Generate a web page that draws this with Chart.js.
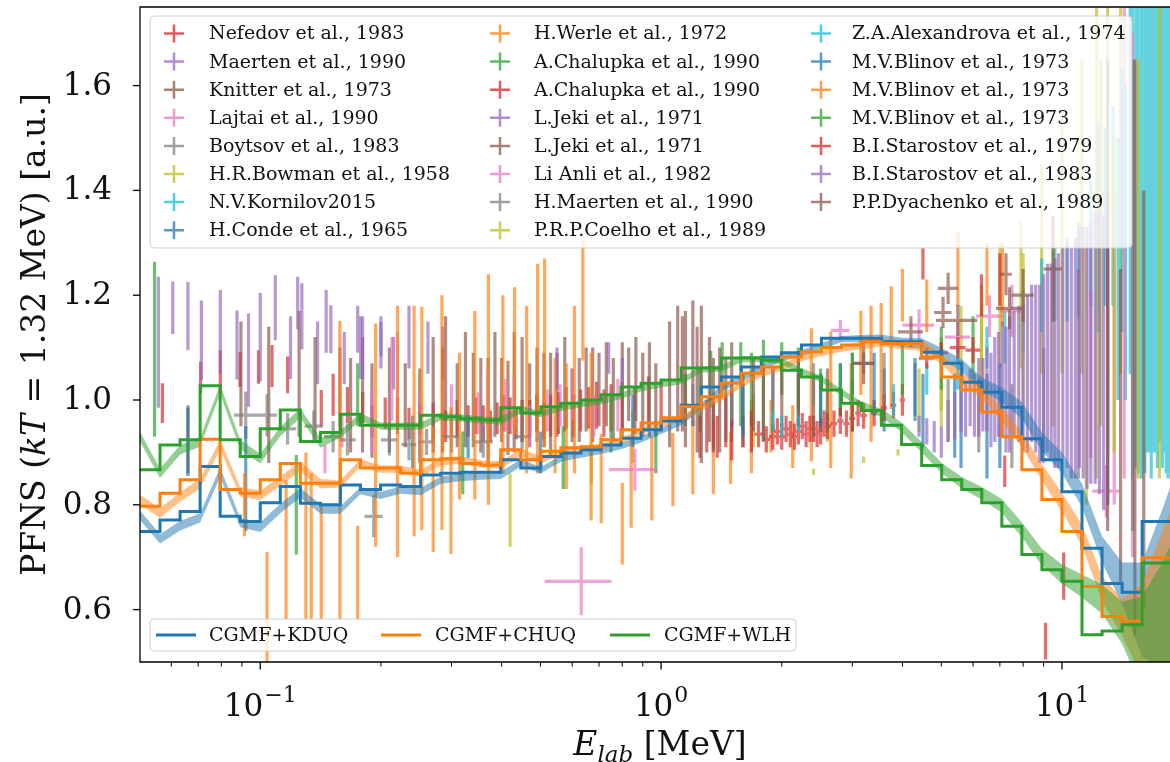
<!DOCTYPE html>
<html><head><meta charset="utf-8">
<script src="https://cdn.jsdelivr.net/npm/chart.js@4.4.1/dist/chart.umd.min.js"></script>
<style>html,body{margin:0;padding:0;background:#fff;overflow:hidden}canvas{display:block}</style>
</head><body>
<canvas id="c" width="1170" height="762"></canvas>
<script>
// ---------- axes ----------
const xRange = [0.05012, 18.6];
const yRange = [0.5, 1.75];
const yTicks = [0.6, 0.8, 1.0, 1.2, 1.4, 1.6];
const yTickLabels = ['0.6', '0.8', '1.0', '1.2', '1.4', '1.6'];
const xTicks = [0.1, 1, 10];
const xTickExps = ['\u22121', '0', '1'];
const xMinorTicks = [0.06,0.07,0.08,0.09,0.2,0.3,0.4,0.5,0.6,0.7,0.8,0.9,2,3,4,5,6,7,8,9];

// ---------- model histograms (bin edges in MeV) ----------
const binEdges = [0.05012,0.05623,0.0631,0.07079,0.07943,0.08913,0.1,0.1122,0.1259,0.1413,0.1585,0.1778,0.1995,0.2239,0.2512,0.2818,0.3162,0.3548,0.3981,0.4467,0.5012,0.5623,0.631,0.7079,0.7943,0.8913,1.0,1.122,1.259,1.413,1.585,1.778,1.995,2.239,2.512,2.818,3.162,3.548,3.981,4.467,5.012,5.623,6.31,7.079,7.943,8.913,10.0,11.22,12.59,14.13,15.85,17.78,19.95];

const cgmfKDUQ = [0.749,0.771,0.787,0.873,0.778,0.768,0.804,0.835,0.803,0.800,
 0.838,0.829,0.838,0.835,0.857,0.860,0.862,0.862,0.886,0.870,
 0.892,0.899,0.905,0.914,0.927,0.943,0.960,0.990,1.025,1.044,
 1.063,1.082,1.090,1.105,1.118,1.118,1.118,1.111,1.111,1.091,
 1.070,1.034,1.015,0.986,0.926,0.886,0.825,0.717,0.650,0.633,
 0.768,0.768];
const cgmfCHUQ = [0.797,0.822,0.848,0.925,0.829,0.822,0.848,0.879,0.841,0.841,
 0.886,0.870,0.870,0.860,0.886,0.888,0.879,0.876,0.905,0.886,
 0.902,0.909,0.911,0.924,0.943,0.956,0.966,0.987,1.006,1.032,
 1.051,1.063,1.082,1.092,1.100,1.105,1.111,1.108,1.108,1.082,
 1.044,1.019,0.977,0.930,0.867,0.810,0.749,0.644,0.587,0.578,
 0.699,0.699];
const cgmfWLH = [0.867,0.914,0.924,1.027,0.924,0.892,0.945,0.981,0.921,0.938,
 0.973,0.952,0.952,0.952,0.971,0.968,0.964,0.962,0.985,0.975,
 0.987,0.994,1.000,1.010,1.025,1.032,1.038,1.061,1.061,1.080,
 1.080,1.076,1.057,1.044,1.019,0.994,0.980,0.952,0.915,0.875,
 0.848,0.829,0.804,0.759,0.705,0.676,0.654,0.552,0.559,0.571,
 0.689,0.689];

// uncertainty bands (value at each bin edge, and half width)
const bandKDUQ = [0.780,
 0.735,0.760,0.775,0.862,0.766,0.757,0.793,0.823,0.792,0.790,
 0.827,0.818,0.828,0.825,0.847,0.852,0.855,0.856,0.880,0.866,
 0.888,0.896,0.903,0.912,0.925,0.941,0.958,0.988,1.022,1.042,
 1.061,1.080,1.089,1.103,1.116,1.117,1.117,1.110,1.108,1.088,
 1.066,1.030,1.010,0.980,0.920,0.880,0.818,0.715,0.650,0.600,
 0.640,0.700];
const bandCHUQ = [0.810,
 0.784,0.815,0.840,0.915,0.825,0.818,0.845,0.874,0.840,0.840,
 0.880,0.868,0.868,0.860,0.882,0.886,0.878,0.876,0.900,0.886,
 0.900,0.907,0.910,0.922,0.940,0.954,0.965,0.985,1.004,1.030,
 1.050,1.062,1.080,1.090,1.098,1.104,1.110,1.106,1.104,1.078,
 1.040,1.015,0.972,0.925,0.862,0.805,0.742,0.640,0.585,0.560,
 0.600,0.660];
const bandWLH = [0.930,
 0.860,0.905,0.920,1.020,0.915,0.888,0.940,0.975,0.918,0.935,
 0.968,0.950,0.950,0.950,0.968,0.966,0.962,0.960,0.982,0.973,
 0.985,0.992,0.998,1.008,1.022,1.030,1.036,1.058,1.060,1.078,
 1.078,1.074,1.055,1.040,1.015,0.990,0.975,0.948,0.910,0.870,
 0.842,0.822,0.798,0.752,0.700,0.668,0.645,0.620,0.575,0.535,
 0.560,0.600];
const halfKDUQ = [0.009,0.009,0.009,0.009,0.009,0.009,0.009,0.009,0.009,0.009,
 0.007,0.007,0.007,0.007,0.007,0.007,0.007,0.007,0.007,0.007,
 0.006,0.006,0.006,0.006,0.006,0.006,0.006,0.006,0.006,0.006,
 0.006,0.006,0.006,0.006,0.006,0.006,0.007,0.008,0.009,0.010,
 0.011,0.012,0.013,0.014,0.016,0.018,0.020,0.022,0.025,0.040,
 0.090,0.150,0.200];
const halfCHUQ = [0.009,0.009,0.009,0.009,0.009,0.009,0.009,0.009,0.009,0.009,
 0.007,0.007,0.007,0.007,0.007,0.007,0.007,0.007,0.007,0.007,
 0.006,0.006,0.006,0.006,0.006,0.006,0.006,0.006,0.006,0.006,
 0.006,0.006,0.006,0.006,0.006,0.006,0.007,0.008,0.009,0.010,
 0.010,0.011,0.012,0.013,0.014,0.016,0.018,0.020,0.024,0.035,
 0.090,0.150,0.180];
const halfWLH = [0.009,0.009,0.009,0.009,0.009,0.009,0.009,0.009,0.009,0.009,
 0.007,0.007,0.007,0.007,0.007,0.007,0.007,0.007,0.007,0.007,
 0.006,0.006,0.006,0.006,0.006,0.006,0.006,0.006,0.006,0.006,
 0.006,0.006,0.006,0.006,0.006,0.006,0.007,0.008,0.009,0.010,
 0.010,0.011,0.012,0.013,0.014,0.016,0.018,0.022,0.028,0.040,
 0.090,0.130,0.170];

// ---------- experimental data: [E (MeV), PFNS, dPFNS, dE] ----------
const nefedov1983 = [[0.057,0.994,0.038],[0.071,1.043,0.030],[0.0795,1.054,0.041],[0.089,1.058,0.033],[0.099,1.063,0.032],[0.107,1.065,0.040],[0.117,1.048,0.035],[0.142,0.984,0.035],[0.152,1.010,0.040],[0.165,0.990,0.035],[0.180,0.985,0.030],[0.190,0.960,0.030],[0.205,0.975,0.030],[0.220,0.970,0.035],[0.235,0.955,0.030],[0.250,0.965,0.030],[0.270,0.960,0.035],[0.290,0.950,0.030],[0.310,0.965,0.035],[0.330,0.960,0.030],[0.345,0.970,0.035],[0.360,0.955,0.035],[0.375,0.950,0.030],[0.390,0.965,0.030],[0.405,0.975,0.035],[0.420,0.970,0.035],[0.435,0.955,0.030],[0.450,0.960,0.040],[0.470,0.965,0.035],[0.490,0.975,0.035],[0.510,0.960,0.035],[0.530,0.970,0.040],[0.555,0.975,0.040],[0.580,0.985,0.040],[0.605,0.970,0.040],[0.630,0.980,0.040],[0.660,0.985,0.040],[0.690,0.990,0.045],[0.720,0.975,0.045],[0.750,0.985,0.045],[0.800,0.990,0.045],[0.860,0.980,0.045],[0.930,0.995,0.050],[1.000,0.990,0.050]];
const maerten1990 = [[0.0557,1.110,0.125],[0.0605,1.176,0.050],[0.066,1.160,0.065],[0.0713,1.114,0.076],[0.0795,1.130,0.080],[0.0875,1.105,0.066],[0.0935,1.076,0.089],[0.100,1.120,0.084],[0.109,1.176,0.062],[0.119,1.100,0.060],[0.127,1.160,0.063],[0.139,1.090,0.060],[0.150,1.135,0.046],[0.162,1.080,0.050],[0.178,1.100,0.060],[0.200,1.116,0.033],[0.215,1.070,0.050],[0.235,1.120,0.060],[0.262,1.100,0.050],[0.285,1.090,0.050]];
const knitter1973 = [[0.066,0.925,0.065],[0.0895,1.050,0.100],[0.105,1.010,0.130],[0.125,1.050,0.120],[0.137,1.020,0.100],[0.158,1.025,0.075],[0.168,0.990,0.090],[0.180,1.010,0.110],[0.190,0.980,0.090],[0.210,1.000,0.100],[0.230,0.990,0.080],[0.250,0.970,0.090],[0.270,1.010,0.110],[0.285,1.000,0.100],[0.290,1.060,0.100],[0.310,0.990,0.080],[0.325,1.020,0.110],[0.340,1.000,0.090],[0.355,0.990,0.090],[0.370,0.980,0.100],[0.385,1.030,0.100],[0.400,1.000,0.080],[0.415,0.985,0.090],[0.430,1.015,0.115],[0.450,1.020,0.100],[0.470,0.990,0.080],[0.490,1.010,0.090],[0.510,1.000,0.090],[0.530,0.990,0.100],[0.550,1.010,0.080],[0.575,1.030,0.090],[0.600,0.990,0.070],[0.625,1.000,0.080],[0.650,1.020,0.080],[0.675,1.010,0.090],[0.700,1.020,0.070],[0.730,1.030,0.080],[0.760,1.000,0.080],[0.800,1.020,0.090],[0.830,1.030,0.070],[0.865,1.040,0.080],[0.900,1.010,0.080],[0.935,1.020,0.090],[0.970,1.000,0.070]];
const lajtai1990 = [[0.145,0.887,0.027],[0.160,0.940,0.030],[0.190,0.960,0.060],[0.213,1.040,0.080],[0.220,1.060,0.070],[0.250,0.970,0.040],[0.300,0.980,0.050],[0.350,0.975,0.040],[0.370,1.005,0.055],[0.410,0.990,0.050],[0.430,1.000,0.050],[0.470,0.950,0.040],[0.520,0.980,0.040],[0.560,0.990,0.040],[0.600,1.010,0.050],[0.680,0.970,0.040],[0.780,0.990,0.050],[0.632,0.654,0.065,0.120]];
const boytsov1983 = [[0.092,0.971,0.045,0.006],[0.104,0.971,0.040,0.006],[0.117,0.945,0.030,0.006],[0.136,0.950,0.030,0.007],[0.152,0.930,0.030,0.008],[0.165,0.924,0.030,0.008],[0.192,0.778,0.040,0.010],[0.210,0.924,0.030,0.010],[0.235,0.915,0.030,0.010],[0.260,0.920,0.025,0.012],[0.300,0.930,0.030,0.015],[0.360,0.920,0.030,0.020],[0.450,0.930,0.030,0.020]];
const bowman1958 = [[0.42,0.790,0.070],[0.67,0.880,0.040],[0.85,0.930,0.050],[1.7,0.960,0.050],[2.6,0.980,0.060],[4.4,1.000,0.060],[5.0,1.050,0.070],[5.6,1.100,0.080],[6.3,1.120,0.100],[7.0,1.180,0.120],[7.9,1.200,0.140],[8.9,1.250,0.200],[10.0,1.300,0.250],[11.2,1.350,0.300],[12.5,1.300,0.350],[14.0,1.400,0.350]];
const kornilov2015 = [[6.5,1.10,0.04],[7.2,1.12,0.05],[8.0,1.15,0.06],[8.9,1.20,0.07],[9.6,1.22,0.07],[10.3,1.23,0.08],[11.0,1.25,0.09],[11.8,1.30,0.12],[12.3,1.33,0.20],[12.8,1.35,0.17],[13.4,1.37,0.19],[13.8,1.25,0.25],[14.1,1.38,0.25],[14.4,1.30,0.30],[14.8,1.40,0.35],[15.0,1.30,0.45],[15.3,1.32,0.45],[15.5,1.36,0.50],[15.8,1.35,0.50],[16.1,1.33,0.47],[16.4,1.40,0.50],[16.7,1.35,0.50],[17.0,1.38,0.48],[17.3,1.33,0.46],[17.5,1.42,0.50],[17.8,1.37,0.50],[18.0,1.45,0.55],[18.2,1.34,0.48],[18.4,1.40,0.55],[18.5,1.36,0.50]];
const conde1965 = [[0.066,0.920,0.065],[0.092,0.850,0.100],[0.24,0.920,0.050],[0.33,0.930,0.040],[0.50,0.900,0.040],[0.85,0.960,0.050],[1.5,0.970,0.050],[2.2,1.000,0.050],[2.8,1.020,0.050],[3.6,1.000,0.060],[4.5,0.980,0.070],[5.6,0.950,0.080],[7.0,0.970,0.100]];
const werle1972 = [[0.0914,0.80,0.06],[0.104,0.58,0.13],[0.116,0.714,0.133],[0.130,0.74,0.16],[0.134,0.72,0.14],[0.142,0.69,0.11],[0.158,0.866,0.285],[0.175,0.67,0.09],[0.194,0.933,0.213],[0.220,0.94,0.24],[0.242,0.96,0.22],[0.253,0.965,0.213],[0.270,0.83,0.12],[0.284,0.976,0.224],[0.299,0.846,0.14],[0.314,0.95,0.14],[0.343,0.99,0.18],[0.371,1.02,0.22],[0.403,1.03,0.17],[0.431,1.075,0.14],[0.462,1.02,0.16],[0.492,1.06,0.20],[0.512,1.09,0.18],[0.544,0.97,0.11],[0.58,0.95,0.12],[0.608,1.02,0.16],[0.638,1.19,0.115],[0.669,0.93,0.16],[0.709,0.85,0.085],[0.80,0.764,0.078],[0.842,0.843,0.087],[0.948,0.85,0.08],[1.07,0.867,0.07],[1.20,0.89,0.07],[1.35,0.89,0.07],[1.49,0.89,0.05],[1.68,0.93,0.07],[1.88,0.95,0.05],[2.13,0.93,0.06],[2.37,1.01,0.127],[2.65,1.00,0.13],[2.98,0.96,0.11],[3.15,1.09,0.08],[3.34,1.05,0.13],[3.54,1.07,0.115],[3.75,1.10,0.117]];
const chalupka1990a = [[0.0545,1.097,0.167],[0.123,0.800,0.095],[0.175,1.010,0.060],[0.32,0.880,0.060],[0.57,0.890,0.060],[0.75,0.950,0.050],[0.97,0.910,0.050],[1.15,1.000,0.050],[1.25,1.000,0.060],[1.33,1.040,0.054],[1.42,1.060,0.050],[1.58,1.030,0.080],[1.68,1.020,0.070],[1.80,1.020,0.095],[2.0,1.060,0.050],[2.2,1.040,0.060],[2.5,1.000,0.060],[2.8,1.020,0.050],[3.0,0.990,0.050]];
const chalupka1990b = [[1.25,0.930,0.040],[1.30,0.950,0.050],[1.35,0.950,0.045],[1.38,0.930,0.040],[1.45,0.960,0.050],[1.50,0.925,0.040],[1.60,0.940,0.030],[1.68,0.940,0.040],[1.75,0.935,0.025,0.04],[1.83,0.925,0.025,0.04],[1.90,0.930,0.025,0.04],[1.95,0.940,0.025,0.04],[2.0,0.930,0.025,0.05],[2.05,0.945,0.025,0.05],[2.1,0.935,0.025,0.05],[2.15,0.930,0.025,0.05],[2.2,0.940,0.025,0.05],[2.25,0.950,0.025,0.05],[2.3,0.935,0.025,0.05],[2.35,0.945,0.025,0.05],[2.4,0.945,0.025,0.05],[2.45,0.935,0.025,0.05],[2.5,0.940,0.025,0.05],[2.55,0.955,0.025,0.05],[2.6,0.950,0.025,0.05],[2.7,0.955,0.025,0.05],[2.8,0.960,0.025,0.05],[2.9,0.955,0.025,0.05],[3.0,0.965,0.025,0.05],[3.1,0.975,0.025,0.05],[3.2,0.970,0.025,0.06],[3.4,0.975,0.025,0.06],[3.6,0.985,0.025,0.06],[3.8,0.990,0.025,0.06],[4.0,1.000,0.030,0.06]];
const jeki1971a = [[0.124,1.185,0.050],[0.146,1.150,0.060],[0.175,1.135,0.045],[0.180,1.100,0.060],[0.200,1.110,0.050],[0.55,1.060,0.040],[0.74,1.080,0.030],[0.80,1.050,0.030]];
const jeki1971b = [[1.05,1.03,0.12],[1.10,1.06,0.12],[1.13,1.05,0.11],[1.15,1.04,0.13],[1.20,1.07,0.12],[1.23,1.02,0.12],[1.26,1.03,0.15],[1.32,1.02,0.10],[1.35,0.99,0.09],[1.40,1.00,0.10],[1.45,1.00,0.08],[1.50,1.03,0.08],[1.60,0.98,0.07],[1.70,1.01,0.07],[1.80,0.99,0.07],[1.90,1.00,0.06],[2.0,1.01,0.06],[2.2,1.02,0.07],[2.4,0.99,0.06],[2.6,1.00,0.06]];
const lianli1982 = [[0.86,0.867,0.040,0.12],[2.8,1.133,0.020,0.15],[4.4,1.143,0.030,0.40],[5.5,1.120,0.030,0.40],[6.6,1.160,0.040,0.50],[7.5,1.170,0.050,0.50],[11.8,1.050,0.160],[12.9,0.826,0.050,1.00],[13.5,1.100,0.300],[14.3,1.300,0.450],[15.0,1.200,0.500]];
const hmaerten1990 = [[1.2,0.99,0.04],[1.5,1.00,0.04],[1.9,1.02,0.04],[2.4,1.03,0.04],[3.0,1.05,0.04],[3.2,1.07,0.02,0.2],[3.6,1.04,0.05],[4.3,1.02,0.05],[5.2,0.98,0.06],[6.2,0.97,0.07],[7.5,0.95,0.08],[9.0,1.00,0.10],[11.0,1.05,0.20],[13.0,1.10,0.30],[15.0,1.20,0.45]];
const coelho1989 = [[2.4,0.863,0.006],[3.2,0.886,0.006],[3.9,0.900,0.006],[5.0,1.03,0.08],[6.3,1.08,0.10],[8.0,1.12,0.16],[9.5,1.15,0.20],[11.5,1.05,0.25],[12.2,1.30,0.45],[13.0,1.35,0.45],[13.5,1.20,0.30],[15.5,1.25,0.40],[17.5,1.30,0.45]];
const alexandrova1974 = [[1.9,0.960,0.020],[2.0,0.950,0.020],[2.2,0.955,0.015],[3.8,1.000,0.030],[4.6,1.040,0.030],[5.5,1.060,0.040]];
const blinov1973a = [[1.6,0.98,0.05],[2.5,1.00,0.05],[3.4,1.03,0.06],[4.3,1.02,0.06],[5.4,0.97,0.08],[6.5,0.95,0.10]];
const blinov1973b = [[4.0,1.20,0.05],[4.6,1.18,0.05],[5.5,1.25,0.07],[6.5,1.24,0.06],[7.1,1.22,0.08]];
const blinov1973c = [[3.0,1.05,0.04],[4.0,1.06,0.05],[5.0,1.08,0.06],[6.0,1.10,0.06]];
const starostov1979 = [[4.5,1.26,0.03],[4.6,1.08,0.02,0.2],[5.0,1.09,0.02,0.2],[5.5,1.10,0.02,0.25],[6.0,1.095,0.025,0.25],[6.3,1.20,0.04],[7.0,1.23,0.05],[7.2,0.864,0.03],[9.1,0.54,0.035],[10.1,0.664,0.045]];
const starostov1983 = [[4.4,0.95,0.02],[4.6,0.94,0.025],[4.8,0.93,0.03],[5.0,0.92,0.03],[5.2,0.96,0.04],[5.4,0.97,0.045],[5.6,0.99,0.05],[5.75,0.98,0.05],[5.9,1.005,0.055],[6.05,0.99,0.06],[6.2,1.005,0.075],[6.35,1.01,0.07],[6.5,1.02,0.08],[6.65,1.00,0.09],[6.8,1.02,0.10],[6.95,1.03,0.10],[7.1,1.04,0.11],[7.25,1.02,0.12],[7.4,1.03,0.13],[7.6,1.05,0.12],[7.8,1.05,0.13],[8.0,1.04,0.14],[8.2,1.05,0.15],[8.4,1.07,0.15],[8.6,1.06,0.16],[8.8,1.05,0.17],[9.0,1.06,0.18],[9.2,1.08,0.18],[9.4,1.075,0.185],[9.6,1.07,0.20],[9.8,1.075,0.205],[10.05,1.09,0.20],[10.3,1.085,0.215],[10.55,1.07,0.22],[10.8,1.08,0.23],[11.05,1.10,0.23],[11.3,1.09,0.24],[11.55,1.08,0.25],[11.8,1.09,0.25],[12.1,1.10,0.26],[12.4,1.09,0.27],[12.7,1.07,0.28],[13.0,1.08,0.28]];
const dyachenko1989 = [[3.2,1.07,0.04,0.2],[4.2,1.13,0.03,0.3],[5.05,1.167,0.03,0.25],[5.2,1.213,0.03,0.3],[5.5,1.152,0.03,0.65],[7.4,1.175,0.04,0.55],[7.25,1.24,0.04,0.25],[8.0,1.20,0.05,0.5],[9.5,1.25,0.10,0.5],[13.0,1.20,0.45],[14.0,0.95,0.30],[15.2,1.10,0.55],[16.0,1.00,0.40]];

const expLabels = ['Nefedov et al., 1983','Maerten et al., 1990','Knitter et al., 1973','Lajtai et al., 1990','Boytsov et al., 1983','H.R.Bowman et al., 1958','N.V.Kornilov2015','H.Conde et al., 1965','H.Werle et al., 1972','A.Chalupka et al., 1990','A.Chalupka et al., 1990','L.Jeki et al., 1971','L.Jeki et al., 1971','Li Anli et al., 1982','H.Maerten et al., 1990','P.R.P.Coelho et al., 1989','Z.A.Alexandrova et al., 1974','M.V.Blinov et al., 1973','M.V.Blinov et al., 1973','M.V.Blinov et al., 1973','B.I.Starostov et al., 1979','B.I.Starostov et al., 1983','P.P.Dyachenko et al., 1989'];
const expColors = ['#d62728','#9467bd','#8c564b','#e377c2','#7f7f7f','#bcbd22','#17becf','#1f77b4','#ff7f0e','#2ca02c','#d62728','#9467bd','#8c564b','#e377c2','#7f7f7f','#bcbd22','#17becf','#1f77b4','#ff7f0e','#2ca02c','#d62728','#9467bd','#8c564b'];
const expData = [nefedov1983,maerten1990,knitter1973,lajtai1990,boytsov1983,bowman1958,kornilov2015,conde1965,werle1972,chalupka1990a,chalupka1990b,jeki1971a,jeki1971b,lianli1982,hmaerten1990,coelho1989,alexandrova1974,blinov1973a,blinov1973b,blinov1973c,starostov1979,starostov1983,dyachenko1989];

const modelLabels = ['CGMF+KDUQ','CGMF+CHUQ','CGMF+WLH'];
const modelColors = ['#1f77b4','#ff7f0e','#2ca02c'];
const modelSteps = [cgmfKDUQ, cgmfCHUQ, cgmfWLH];
const modelBands = [bandKDUQ, bandCHUQ, bandWLH];
const modelHalf = [halfKDUQ, halfCHUQ, halfWLH];

// ---------- helpers ----------
function rgba(hex, a){
  const n = parseInt(hex.slice(1),16);
  return 'rgba('+((n>>16)&255)+','+((n>>8)&255)+','+(n&255)+','+a+')';
}
function errPoints(rows){
  const pts = [];
  for (const r of rows){
    const e=r[0], v=r[1], dv=r[2], de=r[3]||0;
    pts.push({x:e,y:v-dv},{x:e,y:v+dv},{x:e,y:null});
    if (de>0){ pts.push({x:e-de,y:v},{x:e+de,y:v},{x:e,y:null}); }
  }
  return pts;
}
function stepPoints(vals){
  const pts = [];
  for (let i=0;i<vals.length;i++) pts.push({x:binEdges[i], y:vals[i]});
  pts.push({x:binEdges[vals.length], y:vals[vals.length-1]});
  return pts;
}
function bandPoints(c, h, sign){
  return c.map((v,i)=>({x:binEdges[i], y:v+sign*h[i]}));
}

// draw order: larger "order" = drawn earlier (underneath)
const datasets = [];
modelSteps.forEach((s,i)=>{
  datasets.push({data:stepPoints(s), stepped:'before', borderColor:modelColors[i], borderWidth:3,
    pointRadius:0, fill:false, order:3-i, clip:0});
});
modelBands.forEach((b,i)=>{
  datasets.push({data:bandPoints(b, modelHalf[i], 1), borderColor:'rgba(0,0,0,0)', borderWidth:1,
    backgroundColor:rgba(modelColors[i],0.5), pointRadius:0, fill:'+1', order:20-i, clip:0});
  datasets.push({data:bandPoints(b, modelHalf[i], -1), borderColor:'rgba(0,0,0,0)', borderWidth:1,
    pointRadius:0, fill:false, order:20-i, clip:0});
});
expData.forEach((rows,i)=>{
  datasets.push({data:errPoints(rows), borderColor:rgba(expColors[i],0.68), borderWidth:3.2,
    pointRadius:0, fill:false, spanGaps:false, order:100-i, clip:0, borderCapStyle:'butt'});
});

const SERIF = '"DejaVu Serif", serif';
const TXT = '#111';

const decor = {
  id:'decor',
  afterDraw(chart){
    const {ctx, chartArea:ca, scales:{x, y}} = chart;
    ctx.save();
    ctx.strokeStyle = '#000'; ctx.lineWidth = 1.3;
    ctx.beginPath();
    ctx.moveTo(ca.right, ca.top); ctx.lineTo(ca.left, ca.top);
    ctx.lineTo(ca.left, ca.bottom); ctx.lineTo(ca.right, ca.bottom);
    ctx.stroke();
    ctx.fillStyle = TXT;
    ctx.font = '31px '+SERIF; ctx.textAlign='right'; ctx.textBaseline='middle';
    yTicks.forEach((v,i)=>{
      const py = y.getPixelForValue(v);
      ctx.beginPath(); ctx.moveTo(ca.left-7, py); ctx.lineTo(ca.left, py); ctx.stroke();
      ctx.fillText(yTickLabels[i], 112, py+1);
    });
    xMinorTicks.forEach(v=>{
      const px = x.getPixelForValue(v);
      ctx.lineWidth = 1; ctx.beginPath(); ctx.moveTo(px, ca.bottom); ctx.lineTo(px, ca.bottom+4.5); ctx.stroke();
    });
    ctx.lineWidth = 1.3;
    ctx.textBaseline='alphabetic'; ctx.textAlign='left';
    xTicks.forEach((v,i)=>{
      const px = x.getPixelForValue(v);
      ctx.beginPath(); ctx.moveTo(px, ca.bottom); ctx.lineTo(px, ca.bottom+7.5); ctx.stroke();
      ctx.font = '31px '+SERIF; const w1 = ctx.measureText('10').width;
      ctx.font = '22px '+SERIF; const w2 = ctx.measureText(xTickExps[i]).width;
      const x0 = px - (w1+w2+1)/2;
      ctx.font = '31px '+SERIF; ctx.fillText('10', x0, 716);
      ctx.font = '22px '+SERIF; ctx.fillText(xTickExps[i], x0+w1+1, 702);
    });
    {
      const parts = [['E','italic 33px '+SERIF,0],['lab','italic 23px '+SERIF,7],[' [MeV]','33px '+SERIF,0]];
      let tot = 0; parts.forEach(p=>{ctx.font=p[1]; tot+=ctx.measureText(p[0]).width;});
      let cx = 660 - tot/2;
      parts.forEach(p=>{ctx.font=p[1]; ctx.fillText(p[0], cx, 755+p[2]); cx+=ctx.measureText(p[0]).width;});
    }
    {
      ctx.save();
      ctx.translate(45, (ca.top+ca.bottom)/2);
      ctx.rotate(-Math.PI/2);
      const parts = [['PFNS (','33px '+SERIF],['kT','italic 33px '+SERIF],[' = 1.32 MeV) [a.u.]','33px '+SERIF]];
      let tot = 0; parts.forEach(p=>{ctx.font=p[1]; tot+=ctx.measureText(p[0]).width;});
      let cx = -tot/2;
      parts.forEach(p=>{ctx.font=p[1]; ctx.fillText(p[0], cx, 0); cx+=ctx.measureText(p[0]).width;});
      ctx.restore();
    }
    function box(x0,y0,x1,y1){
      const r=4;
      ctx.beginPath();
      ctx.moveTo(x0+r,y0); ctx.lineTo(x1-r,y0); ctx.quadraticCurveTo(x1,y0,x1,y0+r);
      ctx.lineTo(x1,y1-r); ctx.quadraticCurveTo(x1,y1,x1-r,y1);
      ctx.lineTo(x0+r,y1); ctx.quadraticCurveTo(x0,y1,x0,y1-r);
      ctx.lineTo(x0,y0+r); ctx.quadraticCurveTo(x0,y0,x0+r,y0);
      ctx.closePath();
      ctx.fillStyle='rgba(255,255,255,0.8)'; ctx.fill();
      ctx.strokeStyle='rgba(204,204,204,0.9)'; ctx.lineWidth=1; ctx.stroke();
    }
    box(150,16,1132,248);
    const colMark=[174,500,821], colText=[209,534,852];
    ctx.font='19px '+SERIF; ctx.textBaseline='middle'; ctx.textAlign='left';
    expLabels.forEach((lab,i)=>{
      const col=Math.floor(i/8), row=i%8;
      const cy = 33.5 + row*28.1;
      const mx = colMark[col];
      ctx.strokeStyle = rgba(expColors[i],0.75); ctx.lineWidth=2.5;
      ctx.beginPath(); ctx.moveTo(mx-10,cy); ctx.lineTo(mx+10,cy); ctx.moveTo(mx,cy-9); ctx.lineTo(mx,cy+9); ctx.stroke();
      ctx.fillStyle=TXT; ctx.fillText(lab, colText[col], cy+1);
    });
    box(150,619,796,651);
    const lx=[156,381,610], tx=[209,435,664];
    modelLabels.forEach((lab,i)=>{
      ctx.strokeStyle=modelColors[i]; ctx.lineWidth=3;
      ctx.beginPath(); ctx.moveTo(lx[i],635); ctx.lineTo(lx[i]+40,635); ctx.stroke();
      ctx.fillStyle=TXT; ctx.fillText(lab, tx[i], 636);
    });
    ctx.restore();
  }
};

new Chart(document.getElementById('c'), {
  type:'line',
  data:{datasets},
  options:{
    responsive:false, animation:false, devicePixelRatio:1, events:[],
    layout:{padding:{left:140, right:0, top:7, bottom:100}},
    plugins:{legend:{display:false}, tooltip:{enabled:false}},
    elements:{line:{tension:0}},
    scales:{
      x:{type:'logarithmic', min:xRange[0], max:xRange[1], display:false},
      y:{type:'linear', min:yRange[0], max:yRange[1], display:false}
    }
  },
  plugins:[decor]
});
</script>
</body></html>
